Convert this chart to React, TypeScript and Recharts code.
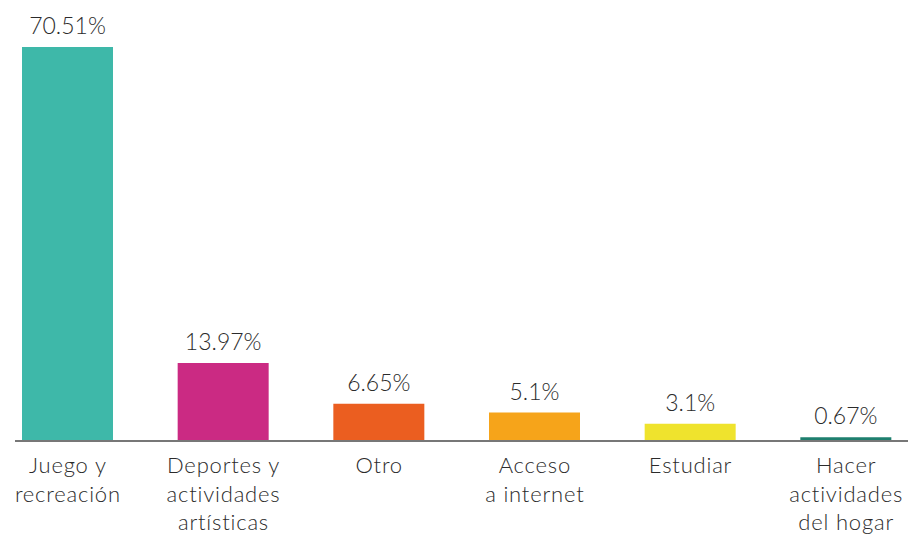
import React from "react";
import { BarChart, Bar, XAxis, YAxis, Cell, LabelList } from "recharts";

const categories = [
  "Juego y\nrecreación",
  "Deportes y\nactividades\nartísticas",
  "Otro",
  "Acceso\na internet",
  "Estudiar",
  "Hacer\nactividades\ndel hogar",
];
const values = [70.51, 13.97, 6.65, 5.1, 3.1, 0.67];
const valueLabels = ["70.51%", "13.97%", "6.65%", "5.1%", "3.1%", "0.67%"];
const colors = ["#3EB8A9", "#CB2A83", "#EB5E20", "#F6A41A", "#EFE32D", "#1E7F6E"];

const data = categories.map((c, i) => ({ name: c, value: values[i], label: valueLabels[i] }));

const FONT = "Lato, 'Noto Sans', sans-serif";

const Tick = (props: any) => {
  const { x, y, payload } = props;
  const lines = String(payload.value).split("\n");
  return (
    <g>
      {lines.map((l, i) => (
        <text
          key={i}
          x={x}
          y={y + 24 + i * 28.5}
          textAnchor="middle"
          fontFamily={FONT}
          fontWeight={300}
          fontSize={22}
          fill="#2b2b2b"
          letterSpacing={0.8}
        >
          {l}
        </text>
      ))}
    </g>
  );
};

const ValueLabel = (props: any) => {
  const { x, y, width, index } = props;
  return (
    <text
      x={x + width / 2}
      y={y - 13}
      textAnchor="middle"
      fontFamily={FONT}
      fontWeight={300}
      fontSize={23}
      fill="#2b2b2b"
    >
      {valueLabels[index]}
    </text>
  );
};

export default function App() {
  return (
    <div
      style={{
        position: "fixed",
        left: 0,
        top: 0,
        width: 908,
        height: 534,
        overflow: "hidden",
        background: "#fff",
      }}
    >
      <div style={{ position: "absolute", left: 15, top: 0 }}>
        <BarChart
          width={910}
          height={534}
          data={data}
          margin={{ top: 47, right: 0, bottom: 0, left: 0 }}
          barSize={91}
        >
          <XAxis
            dataKey="name"
            interval={0}
            padding={{ left: -25, right: 1 }}
            tickLine={false}
            axisLine={{ stroke: "#777", strokeWidth: 2 }}
            height={93}
            tick={<Tick />}
          />
          <YAxis hide domain={[0, "dataMax"]} />
          <Bar dataKey="value" isAnimationActive={false}>
            {data.map((d, i) => (
              <Cell key={i} fill={colors[i]} />
            ))}
            <LabelList dataKey="label" content={<ValueLabel />} />
          </Bar>
        </BarChart>
      </div>
    </div>
  );
}
